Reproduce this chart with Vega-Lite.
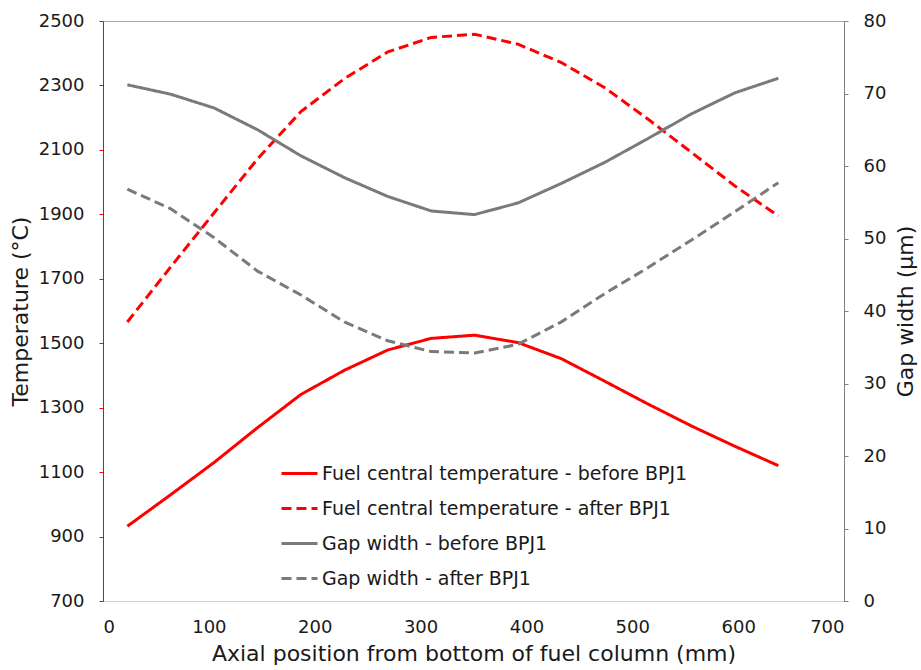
{
  "$schema": "https://vega.github.io/schema/vega-lite/v6.json",
  "width": 741,
  "height": 580,
  "autosize": {"type": "none"},
  "padding": {"left": 103, "top": 21, "right": 77, "bottom": 68},
  "background": "white",
  "config": {
    "view": {"stroke": "#a6a6a6", "strokeWidth": 1},
    "font": "DejaVu Sans",
    "axis": {
      "grid": false,
      "labelFont": "DejaVu Sans",
      "titleFont": "DejaVu Sans",
      "labelColor": "#1a1a1a",
      "titleColor": "#1a1a1a",
      "labelFontSize": 18,
      "titleFontSize": 22,
      "titleFontWeight": "normal",
      "format": "d"
    },
    "legend": {
      "labelFont": "DejaVu Sans",
      "labelFontSize": 19,
      "labelColor": "#1a1a1a",
      "labelLimit": 0,
      "symbolType": "stroke",
      "symbolSize": 1296,
      "symbolStrokeWidth": 3,
      "labelOffset": 3,
      "rowPadding": 5,
      "padding": 0
    }
  },
  "data": {
    "values": [
      {"x": 23, "series": "Fuel central temperature - before BPJ1", "value": 932},
      {"x": 64, "series": "Fuel central temperature - before BPJ1", "value": 1030},
      {"x": 105, "series": "Fuel central temperature - before BPJ1", "value": 1130},
      {"x": 146, "series": "Fuel central temperature - before BPJ1", "value": 1238},
      {"x": 187, "series": "Fuel central temperature - before BPJ1", "value": 1341},
      {"x": 228, "series": "Fuel central temperature - before BPJ1", "value": 1416},
      {"x": 269, "series": "Fuel central temperature - before BPJ1", "value": 1479},
      {"x": 310, "series": "Fuel central temperature - before BPJ1", "value": 1515},
      {"x": 351, "series": "Fuel central temperature - before BPJ1", "value": 1525},
      {"x": 392, "series": "Fuel central temperature - before BPJ1", "value": 1502},
      {"x": 433, "series": "Fuel central temperature - before BPJ1", "value": 1452},
      {"x": 474, "series": "Fuel central temperature - before BPJ1", "value": 1382},
      {"x": 515, "series": "Fuel central temperature - before BPJ1", "value": 1311},
      {"x": 556, "series": "Fuel central temperature - before BPJ1", "value": 1243},
      {"x": 597, "series": "Fuel central temperature - before BPJ1", "value": 1180},
      {"x": 638, "series": "Fuel central temperature - before BPJ1", "value": 1120},
      {"x": 23, "series": "Fuel central temperature - after BPJ1", "value": 1566},
      {"x": 64, "series": "Fuel central temperature - after BPJ1", "value": 1737},
      {"x": 105, "series": "Fuel central temperature - after BPJ1", "value": 1905},
      {"x": 146, "series": "Fuel central temperature - after BPJ1", "value": 2072},
      {"x": 187, "series": "Fuel central temperature - after BPJ1", "value": 2219},
      {"x": 228, "series": "Fuel central temperature - after BPJ1", "value": 2321},
      {"x": 269, "series": "Fuel central temperature - after BPJ1", "value": 2404},
      {"x": 310, "series": "Fuel central temperature - after BPJ1", "value": 2449},
      {"x": 351, "series": "Fuel central temperature - after BPJ1", "value": 2459},
      {"x": 392, "series": "Fuel central temperature - after BPJ1", "value": 2428},
      {"x": 433, "series": "Fuel central temperature - after BPJ1", "value": 2371},
      {"x": 474, "series": "Fuel central temperature - after BPJ1", "value": 2293},
      {"x": 515, "series": "Fuel central temperature - after BPJ1", "value": 2195},
      {"x": 556, "series": "Fuel central temperature - after BPJ1", "value": 2092},
      {"x": 597, "series": "Fuel central temperature - after BPJ1", "value": 1988},
      {"x": 638, "series": "Fuel central temperature - after BPJ1", "value": 1895},
      {"x": 23, "series": "Gap width - before BPJ1", "value": 71.2},
      {"x": 64, "series": "Gap width - before BPJ1", "value": 69.9},
      {"x": 105, "series": "Gap width - before BPJ1", "value": 68.0},
      {"x": 146, "series": "Gap width - before BPJ1", "value": 65.0},
      {"x": 187, "series": "Gap width - before BPJ1", "value": 61.4},
      {"x": 228, "series": "Gap width - before BPJ1", "value": 58.4},
      {"x": 269, "series": "Gap width - before BPJ1", "value": 55.8},
      {"x": 310, "series": "Gap width - before BPJ1", "value": 53.8},
      {"x": 351, "series": "Gap width - before BPJ1", "value": 53.3},
      {"x": 392, "series": "Gap width - before BPJ1", "value": 54.9},
      {"x": 433, "series": "Gap width - before BPJ1", "value": 57.6},
      {"x": 474, "series": "Gap width - before BPJ1", "value": 60.5},
      {"x": 515, "series": "Gap width - before BPJ1", "value": 63.8},
      {"x": 556, "series": "Gap width - before BPJ1", "value": 67.2},
      {"x": 597, "series": "Gap width - before BPJ1", "value": 70.1},
      {"x": 638, "series": "Gap width - before BPJ1", "value": 72.1},
      {"x": 23, "series": "Gap width - after BPJ1", "value": 56.8},
      {"x": 64, "series": "Gap width - after BPJ1", "value": 54.1},
      {"x": 105, "series": "Gap width - after BPJ1", "value": 50.1},
      {"x": 146, "series": "Gap width - after BPJ1", "value": 45.5},
      {"x": 187, "series": "Gap width - after BPJ1", "value": 42.2},
      {"x": 228, "series": "Gap width - after BPJ1", "value": 38.5},
      {"x": 269, "series": "Gap width - after BPJ1", "value": 35.9},
      {"x": 310, "series": "Gap width - after BPJ1", "value": 34.4},
      {"x": 351, "series": "Gap width - after BPJ1", "value": 34.2},
      {"x": 392, "series": "Gap width - after BPJ1", "value": 35.4},
      {"x": 433, "series": "Gap width - after BPJ1", "value": 38.5},
      {"x": 474, "series": "Gap width - after BPJ1", "value": 42.4},
      {"x": 515, "series": "Gap width - after BPJ1", "value": 46.0},
      {"x": 556, "series": "Gap width - after BPJ1", "value": 49.8},
      {"x": 597, "series": "Gap width - after BPJ1", "value": 53.7},
      {"x": 638, "series": "Gap width - after BPJ1", "value": 57.7}
    ]
  },
  "encoding": {
    "x": {
      "field": "x",
      "type": "quantitative",
      "scale": {"domain": [0, 700], "nice": false},
      "axis": {
        "values": [0, 100, 200, 300, 400, 500, 600, 700],
        "ticks": false,
        "domainColor": "#d0d0d0",
        "domainWidth": 1,
        "labelPadding": 17,
        "titlePadding": 7,
        "title": "Axial position from bottom of fuel column (mm)"
      }
    },
    "color": {
      "field": "series",
      "type": "nominal",
      "scale": {
        "domain": ["Fuel central temperature - before BPJ1", "Fuel central temperature - after BPJ1", "Gap width - before BPJ1", "Gap width - after BPJ1"],
        "range": ["#ff0000", "#ff0000", "#7a7a7a", "#7a7a7a"]
      },
      "legend": {"title": null, "orient": "none", "legendX": 177, "legendY": 433}
    },
    "strokeDash": {
      "field": "series",
      "type": "nominal",
      "scale": {
        "domain": ["Fuel central temperature - before BPJ1", "Fuel central temperature - after BPJ1", "Gap width - before BPJ1", "Gap width - after BPJ1"],
        "range": [[1, 0], [10, 5], [1, 0], [10, 5]]
      },
      "legend": {"title": null, "orient": "none", "legendX": 177, "legendY": 433}
    }
  },
  "layer": [
    {
      "transform": [{"filter": "indexof(datum.series, 'Fuel') >= 0"}],
      "mark": {"type": "line", "strokeWidth": 3},
      "encoding": {
        "y": {
          "field": "value",
          "type": "quantitative",
          "scale": {"domain": [700, 2500], "nice": false, "zero": false},
          "axis": {
            "orient": "left",
            "values": [700, 900, 1100, 1300, 1500, 1700, 1900, 2100, 2300, 2500],
            "domainColor": "#ff0000",
            "ticks": true,
            "tickColor": "#ff0000",
            "tickSize": 4,
            "labelPadding": 15,
            "titlePadding": 6,
            "title": "Temperature (°C)"
          }
        }
      }
    },
    {
      "transform": [{"filter": "indexof(datum.series, 'Gap') >= 0"}],
      "mark": {"type": "line", "strokeWidth": 3},
      "encoding": {
        "y": {
          "field": "value",
          "type": "quantitative",
          "scale": {"domain": [0, 80], "nice": false},
          "axis": {
            "orient": "right",
            "values": [0, 10, 20, 30, 40, 50, 60, 70, 80],
            "domainColor": "#808080",
            "ticks": true,
            "tickColor": "#808080",
            "tickSize": 4,
            "labelPadding": 15,
            "titlePadding": 10,
            "titleAngle": 270,
            "titleBaseline": "top",
            "title": "Gap width (µm)"
          }
        }
      }
    }
  ],
  "resolve": {"scale": {"y": "independent"}}
}
